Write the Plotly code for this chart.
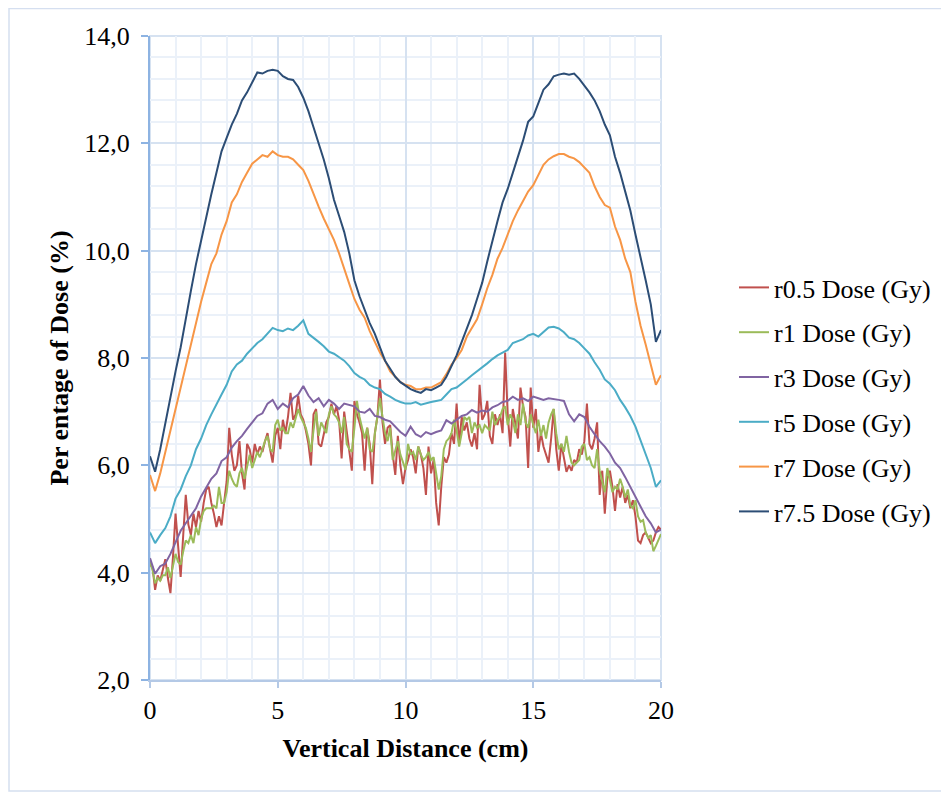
import numpy as np
import plotly.graph_objects as go

# ---------------- data ----------------
x_fine = [round(i * 0.1, 1) for i in range(201)]
x_coarse = [round(i * 0.2, 1) for i in range(101)]

r05 = [4.15, 4.1, 3.68, 3.95, 3.85, 4.05, 4.25, 3.9, 3.62, 4.3,
       5.1, 4.5, 3.92, 4.7, 5.45, 4.9, 4.7, 5.1, 4.85, 5.15,
       4.95, 5.3, 5.55, 5.6, 5.3, 5.1, 4.85, 5.05, 4.88, 5.3,
       5.7, 6.7, 6.2, 5.9, 6.0, 6.45, 5.85, 5.55, 6.4, 6.3,
       6.05, 6.4, 6.2, 6.35, 6.25, 6.45, 6.6, 6.3, 6.05, 6.55,
       6.7, 6.3, 6.85, 6.6, 6.9, 7.35, 6.85, 6.95, 7.3, 6.95,
       6.85, 6.65, 6.4, 6.0, 6.95, 7.05, 6.4, 6.35, 6.6, 6.8,
       6.9, 7.15, 6.95, 7.1, 6.85, 6.13, 7.0, 6.6, 6.2, 5.9,
       7.2, 6.95, 6.8, 6.6, 5.9, 6.7, 6.4, 5.65, 6.6, 6.9,
       7.6, 6.8, 6.4, 6.7, 6.75, 6.2, 5.82, 6.55, 6.0, 5.65,
       5.95, 6.1, 6.3, 6.15, 5.85, 6.35, 6.2, 5.95, 5.45, 6.35,
       5.85, 6.1, 5.3, 4.88, 5.6, 6.15, 6.05, 6.2, 6.6, 6.4,
       7.15, 6.4, 6.9, 6.65, 6.8, 6.5, 6.35, 6.6, 6.3, 7.5,
       6.85, 6.95, 7.2, 6.55, 6.4, 6.95, 6.75, 6.95, 6.6, 8.1,
       6.95, 6.35, 7.05, 6.8, 6.5, 7.45, 7.1, 6.9, 5.95, 7.45,
       6.7, 7.05, 6.25, 6.6, 6.35, 6.2, 6.05, 6.5, 7.05, 6.3,
       5.9, 6.4, 6.1, 5.88, 6.0, 5.9, 6.1, 6.05, 6.3, 6.2,
       6.45, 7.15, 6.4, 6.3, 6.5, 6.8, 5.45, 5.9, 5.1, 5.75,
       5.9, 5.6, 5.15, 5.65, 5.4, 5.6, 5.3, 5.45, 5.2, 5.35,
       5.05, 4.6, 4.55, 4.7, 4.75, 4.65, 4.55, 4.6, 4.75, 4.85,
       4.8]

r1 = [4.2, 4.05, 3.8, 3.9, 3.85, 3.95, 3.95, 4.1, 3.9, 4.1,
      4.35, 4.2, 4.15, 4.4, 4.6, 4.55, 4.7, 4.55, 4.85, 4.7,
      5.0, 5.15, 5.2, 5.2, 5.2, 5.25, 5.2, 5.6, 5.3, 5.3,
      5.5, 5.9, 5.75, 5.65, 5.6, 5.85, 5.95, 5.75, 6.0, 6.2,
      5.95, 6.1, 6.25, 6.15, 6.3, 6.45, 6.55, 6.3, 6.25, 6.75,
      6.85, 6.65, 6.7, 6.6, 6.6, 6.8, 6.7, 6.9, 7.05, 6.9,
      6.8, 6.7, 6.5, 6.25, 6.65, 7.0, 6.55, 6.8, 6.7, 6.6,
      6.95, 7.1, 6.95, 6.9, 6.8, 6.6, 6.9, 6.4, 6.3, 6.25,
      6.7, 7.2, 6.9, 6.7, 6.5, 6.7, 6.3, 6.25, 6.6, 6.85,
      7.25, 6.9, 6.6, 6.45, 6.7, 6.1, 6.3, 6.45, 6.2, 6.05,
      5.92, 6.4, 6.2, 6.25, 6.1, 6.35, 6.2, 6.1, 6.15, 6.25,
      6.1, 6.15, 5.8, 5.55, 5.8, 6.3, 6.45, 6.5, 6.6, 6.85,
      6.65, 6.35, 6.6, 6.9, 6.85, 6.9, 6.6, 6.8, 6.7, 6.75,
      6.6, 6.75, 6.7, 6.65, 7.0, 6.75, 6.85, 6.9, 7.05, 7.1,
      6.75, 6.95, 6.85, 6.6, 6.95, 6.75, 7.15, 6.8, 6.7, 6.95,
      6.75, 6.6, 6.85, 6.55, 6.75, 6.5, 6.8, 6.95, 7.05, 6.6,
      6.3, 6.4, 6.25, 6.55, 6.25, 6.05, 6.0, 6.05, 6.1, 6.35,
      6.4, 6.1, 6.15, 6.0, 5.95, 6.3, 5.9, 5.7, 5.5, 5.95,
      5.75, 5.5, 5.6, 5.55, 5.75, 5.6, 5.4, 5.55, 5.25, 5.2,
      5.35, 5.05, 4.95, 4.98, 4.75, 4.65, 4.7, 4.4, 4.5, 4.6,
      4.72]

r3 = [4.27, 3.98, 4.12, 4.17, 4.35, 4.55, 4.78, 4.92, 5.05, 5.2,
      5.42, 5.58, 5.75, 5.85, 6.08, 6.15, 6.33, 6.45, 6.55, 6.68,
      6.8, 6.92, 6.97, 7.15, 7.22, 7.05, 7.15, 7.08, 7.25, 7.32,
      7.48, 7.3, 7.18, 7.25, 7.1, 7.22, 7.15, 7.05, 7.15, 7.12,
      7.1, 7.0, 6.98, 7.05, 6.92, 6.9, 6.85, 6.82, 6.72, 6.62,
      6.55, 6.72, 6.58, 6.53, 6.62, 6.58, 6.62, 6.65, 6.84, 6.78,
      6.85, 6.92, 6.95, 7.03, 6.98, 7.02, 7.0, 7.08, 7.12, 7.18,
      7.2, 7.28, 7.22, 7.25, 7.2, 7.28, 7.25, 7.22, 7.25, 7.24,
      7.22, 7.2, 6.95, 6.82, 6.95, 6.9, 6.72, 6.58, 6.45, 6.35,
      6.22, 6.05, 5.95, 5.78, 5.6, 5.42, 5.22, 5.05, 4.92, 4.75,
      4.8]

r5 = [4.75, 4.55, 4.7, 4.83, 5.05, 5.38, 5.55, 5.8, 6.0, 6.3,
      6.5, 6.75, 6.95, 7.15, 7.32, 7.5, 7.75, 7.88, 7.95, 8.08,
      8.18, 8.28, 8.35, 8.45, 8.56, 8.52, 8.5, 8.55, 8.52, 8.6,
      8.7, 8.45, 8.38, 8.3, 8.22, 8.12, 8.08, 8.02, 7.95, 7.85,
      7.72, 7.65, 7.6, 7.5, 7.45, 7.42, 7.33, 7.28, 7.22, 7.18,
      7.15, 7.15, 7.18, 7.13, 7.16, 7.18, 7.2, 7.22, 7.32, 7.42,
      7.45, 7.52, 7.6, 7.68, 7.75, 7.83, 7.9, 7.98, 8.05, 8.1,
      8.15, 8.28, 8.32, 8.35, 8.42, 8.45, 8.4, 8.48, 8.57, 8.58,
      8.55, 8.48, 8.38, 8.35, 8.28, 8.18, 8.08, 7.92, 7.78, 7.6,
      7.52, 7.4, 7.22, 7.08, 6.92, 6.72, 6.45, 6.2, 5.95, 5.6,
      5.72]

r7 = [5.82, 5.52, 5.85, 6.25, 6.7, 7.1, 7.5, 7.85, 8.25, 8.7,
      9.05, 9.4, 9.75, 9.95, 10.3, 10.55, 10.9, 11.05, 11.28, 11.45,
      11.62, 11.7, 11.78, 11.75, 11.85, 11.78, 11.75, 11.75, 11.7, 11.6,
      11.5, 11.3, 11.05, 10.82, 10.6, 10.4, 10.2, 9.95, 9.65, 9.38,
      9.1, 8.9, 8.75, 8.5, 8.3, 8.1, 7.95, 7.75, 7.65, 7.55,
      7.5, 7.48, 7.42, 7.42, 7.45, 7.45, 7.5, 7.55, 7.7, 7.88,
      8.0, 8.15, 8.4, 8.55, 8.72, 9.0, 9.3, 9.55, 9.85, 10.05,
      10.3, 10.55, 10.75, 10.92, 11.1, 11.22, 11.4, 11.6, 11.7, 11.76,
      11.8, 11.8, 11.75, 11.72, 11.65, 11.55, 11.45, 11.2, 11.0, 10.85,
      10.8, 10.45, 10.2, 9.85, 9.6, 9.05, 8.6, 8.25, 7.85, 7.5,
      7.68]

r75 = [6.17, 5.88, 6.3, 6.8, 7.3, 7.75, 8.2, 8.75, 9.25, 9.75,
       10.2, 10.65, 11.05, 11.45, 11.85, 12.1, 12.35, 12.55, 12.8, 12.95,
       13.15, 13.32, 13.3, 13.35, 13.37, 13.35, 13.25, 13.2, 13.18, 13.05,
       12.85, 12.6, 12.3, 12.0, 11.7, 11.35, 10.95, 10.65, 10.35, 9.95,
       9.45, 9.15, 8.9, 8.65, 8.45, 8.2, 7.95, 7.8, 7.65, 7.55,
       7.48, 7.42, 7.38, 7.35, 7.42, 7.4, 7.45, 7.5, 7.65, 7.85,
       8.05, 8.3, 8.55, 8.8, 9.1, 9.4, 9.8, 10.2, 10.55, 10.9,
       11.15, 11.45, 11.75, 12.05, 12.4, 12.5, 12.75, 13.0, 13.1, 13.25,
       13.28, 13.3, 13.28, 13.3, 13.2, 13.08, 12.95, 12.8, 12.6, 12.35,
       12.15, 11.75, 11.45, 11.1, 10.75, 10.3, 9.9, 9.45, 9.0, 8.3,
       8.52]

series_names = ["r0.5 Dose (Gy)", "r1 Dose (Gy)", "r3 Dose (Gy)",
                "r5 Dose (Gy)", "r7 Dose (Gy)", "r7.5 Dose (Gy)"]
series_x = [x_fine, x_fine, x_coarse, x_coarse, x_coarse, x_coarse]
series_y = [r05, r1, r3, r5, r7, r75]
colors = ["#c0504d", "#9bbb59", "#8064a2", "#4bacc6", "#f79646", "#2c4d75"]

x_title = "Vertical Distance (cm)"
y_title = "Per entage of Dose (%)"

# ---------------- figure ----------------
FONT = "Times New Roman, Liberation Serif, serif"
FS = 26
fig = go.Figure()
for i, (nm, xs, ys, c) in enumerate(zip(series_names, series_x, series_y, colors)):
    fig.add_trace(go.Scatter(x=xs, y=ys, mode="lines", name=nm,
                             legendgroup=f"g{i}",
                             line=dict(color=c, width=2)))

# page body has an 8px margin, so figure coords = screen coords - 8
W, H = 941, 784
L, T = 142, 28
R = W - 653
B = H - 672
pw, ph = W - L - R, H - T - B

fig.update_layout(
    width=W, height=H,
    margin=dict(l=L, r=R, t=T, b=B),
    paper_bgcolor="white", plot_bgcolor="white",
    separators=", ",
    font=dict(family=FONT, size=FS, color="black"),
    showlegend=True,
    legend=dict(x=(726 - L) / pw, y=(H - B - 256) / ph, xanchor="left", yanchor="top",
                font=dict(family=FONT, size=FS), tracegroupgap=8,
                traceorder="grouped", bgcolor="rgba(0,0,0,0)"),
    xaxis=dict(range=[0, 20], tickvals=[0, 5, 10, 15, 20], ticktext=["0", "5", "10", "15", "20"],
               showgrid=True, gridcolor="#d6e2f1", gridwidth=1.5,
               minor=dict(dtick=1, showgrid=True, gridcolor="#ebf1f9", gridwidth=1.5),
               showline=True, linecolor="#b4c9e6", linewidth=2,
               ticks="outside", ticklen=6, tickcolor="#b4c9e6", tickwidth=2,
               zeroline=False,
               title=dict(text="<b>" + x_title + "</b>", font=dict(family=FONT, size=FS), standoff=15)),
    yaxis=dict(range=[2, 14], dtick=2, tickformat=".1f",
               showgrid=True, gridcolor="#d6e2f1", gridwidth=1.5,
               minor=dict(dtick=0.4, showgrid=True, gridcolor="#ebf1f9", gridwidth=1.5),
               showline=True, linecolor="#8db3e2", linewidth=2,
               ticks="outside", ticklen=7, tickcolor="#8db3e2", tickwidth=2,
               ticklabelstandoff=6,
               zeroline=False,
               title=dict(text="<b>" + y_title + "</b>", font=dict(family=FONT, size=FS), standoff=8)),
)

# plot-area border (top/right) and outer chart border
fig.add_shape(type="rect", xref="paper", yref="paper", x0=0, y0=0, x1=1, y1=1,
              line=dict(color="#d6e2f1", width=2), layer="below")
fig.add_shape(type="rect", xref="paper", yref="paper",
              x0=(1 - L) / pw, x1=(W - 1 - L) / pw,
              y0=(H - B - (H - 1)) / ph, y1=(H - B - 0.5) / ph,
              line=dict(color="#d5dff0", width=1.5), layer="below")

fig.write_html("out.html")
